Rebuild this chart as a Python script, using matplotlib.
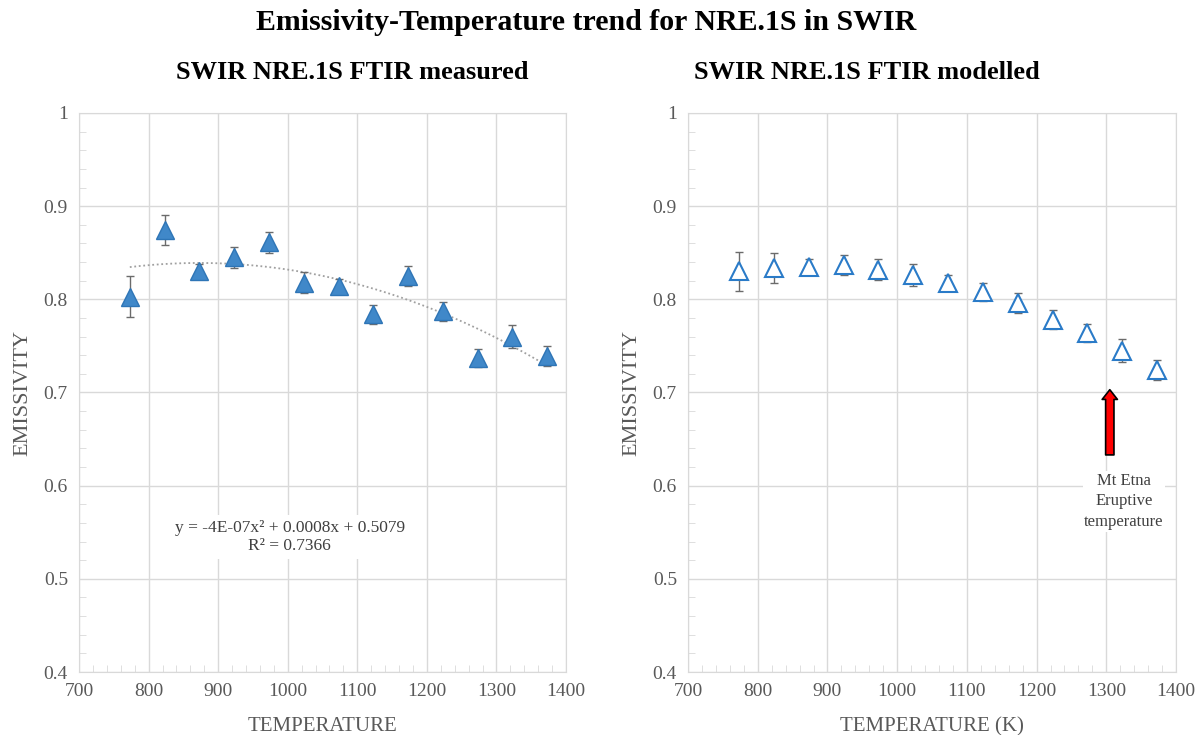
import matplotlib
matplotlib.use("Agg")
import matplotlib.pyplot as plt
from matplotlib.ticker import MultipleLocator
import numpy as np

plt.rcParams['font.family'] = ['Liberation Serif', 'DejaVu Serif']

temperature = [773, 823, 873, 923, 973, 1023, 1073, 1123, 1173, 1223, 1273, 1323, 1373]
measured = [0.803, 0.874, 0.830, 0.845, 0.861, 0.818, 0.814, 0.784, 0.825, 0.787, 0.737, 0.760, 0.739]
measured_err = [0.022, 0.016, 0.008, 0.011, 0.011, 0.011, 0.008, 0.010, 0.011, 0.010, 0.010, 0.012, 0.011]
modelled = [0.830, 0.834, 0.835, 0.837, 0.832, 0.826, 0.818, 0.808, 0.796, 0.778, 0.764, 0.745, 0.724]
modelled_err = [0.021, 0.016, 0.008, 0.011, 0.011, 0.012, 0.008, 0.010, 0.011, 0.010, 0.010, 0.012, 0.011]

etna_temp = 1305
etna_arrow = (0.633, 0.703)

grid_col = "#d9d9d9"
text_col = "#595959"

fig = plt.figure(figsize=(12.01, 7.35), dpi=100)
ax1 = fig.add_axes([0.0658, 0.0857, 0.4055, 0.7606])
ax2 = fig.add_axes([0.5729, 0.0857, 0.4063, 0.7606])

fig.text(0.488, 0.97, "Emissivity-Temperature trend for NRE.1S in SWIR", ha="center",
         va="center", fontsize=21.5, fontweight="bold")
fig.text(0.293, 0.902, "SWIR NRE.1S FTIR measured", ha="center", va="center",
         fontsize=19, fontweight="bold")
fig.text(0.722, 0.902, "SWIR NRE.1S FTIR modelled", ha="center", va="center",
         fontsize=19, fontweight="bold")


def style(ax, xlabel):
    ax.set_xlim(700, 1400)
    ax.set_ylim(0.4, 1.0)
    ax.xaxis.set_major_locator(MultipleLocator(100))
    ax.xaxis.set_minor_locator(MultipleLocator(20))
    ax.yaxis.set_minor_locator(MultipleLocator(0.02))
    ax.grid(True, which="major", color=grid_col, lw=1)
    ax.set_axisbelow(True)
    for s in ax.spines.values():
        s.set_color(grid_col)
    ax.tick_params(which="major", length=0, labelsize=14, labelcolor=text_col, pad=8)
    ax.tick_params(which="minor", direction="in", length=5, color=grid_col)
    ax.set_yticks(np.arange(0.4, 1.01, 0.1))
    ax.set_yticklabels(["0.4", "0.5", "0.6", "0.7", "0.8", "0.9", "1"])
    ax.set_xlabel(xlabel, fontsize=15, color=text_col, labelpad=12)
    ax.set_ylabel("EMISSIVITY", fontsize=16, color=text_col, labelpad=8)


style(ax1, "TEMPERATURE")
style(ax2, "TEMPERATURE (K)")

# measured + 2nd order trendline
coef = np.polyfit(temperature, measured, 2)
xt = np.linspace(temperature[0], temperature[-1], 200)
ax1.plot(xt, np.polyval(coef, xt), ls=(0, (1, 1.5)), color="#a0a0a0", lw=1.3, zorder=2)
ax1.errorbar(temperature, measured, yerr=measured_err, fmt="none", ecolor="#6b6b6b",
             elinewidth=1, capsize=3, capthick=1, zorder=3)
ax1.plot(temperature, measured, ls="none", marker="^", ms=13, mfc="#4088c9",
         mec="#2e75b6", mew=1, zorder=4)
ax1.text(1003, 0.545, "y = -4E-07x² + 0.0008x + 0.5079\nR² = 0.7366", ha="center",
         va="center", fontsize=12.5, color="#404040", linespacing=1.1,
         bbox=dict(facecolor="white", edgecolor="none", pad=4), zorder=5)

# modelled
ax2.errorbar(temperature, modelled, yerr=modelled_err, fmt="none", ecolor="#6b6b6b",
             elinewidth=1, capsize=3, capthick=1, zorder=3)
ax2.plot(temperature, modelled, ls="none", marker="^", ms=13, mfc="white",
         mec="#2a7bc8", mew=1.5, zorder=4)
ax2.annotate("", xy=(etna_temp, etna_arrow[1]), xytext=(etna_temp, etna_arrow[0]),
             arrowprops=dict(arrowstyle="simple,head_width=1.1,head_length=0.7,tail_width=0.6",
                             fc="#ff0000", ec="black", lw=1.2, shrinkA=0, shrinkB=0),
             zorder=5)
ax2.text(1325, 0.614, "Mt Etna\nEruptive\ntemperature", ha="center", va="top",
         fontsize=12, color="#404040", linespacing=1.4,
         bbox=dict(facecolor="white", edgecolor="none", pad=1))

fig.savefig("out.png", dpi=100)
